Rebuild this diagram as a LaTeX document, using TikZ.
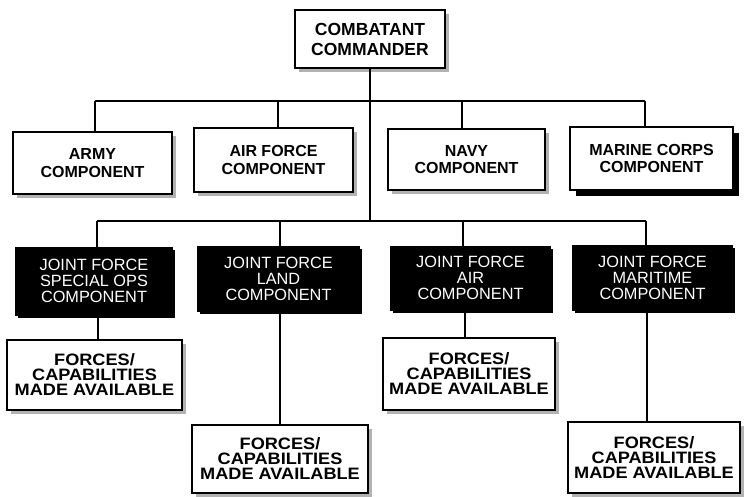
\documentclass[tikz,border=0pt]{standalone}
\usepackage{fontspec}
\setmainfont{Liberation Sans}
\newfontfamily\widefont[FakeStretch=1.1]{Liberation Sans}
\usetikzlibrary{shadows}
\newcommand{\txa}{\fontsize{17.5}{20}\selectfont}
\newcommand{\txb}{\fontsize{16}{17.5}\selectfont}
\newcommand{\txc}{\fontsize{16.3}{16}\selectfont}
\newcommand{\txd}{\widefont\fontsize{16.5}{15}\selectfont}
\tikzset{
  wbox/.style={draw=black, line width=1.6pt, fill=white, align=center, inner sep=0pt,
    drop shadow={fill=black!30, shadow xshift=4pt, shadow yshift=-4pt, opacity=1}},
  cmdbox/.style={wbox, font=\bfseries\txa},
  compbox/.style={wbox, font=\bfseries\txb},
  forcebox/.style={wbox, font=\txd\bfseries},
  mbox/.style={draw=black, line width=1.6pt, fill=white, align=center, inner sep=0pt,
    font=\bfseries\txb, drop shadow={fill=black, shadow xshift=6pt, shadow yshift=-6pt, opacity=1}},
  bbox/.style={draw=black, line width=1pt, fill=black, text=white, align=center, inner sep=0pt,
    font=\txc, drop shadow={fill=black, shadow xshift=2.5pt, shadow yshift=-2.5pt, opacity=1}},
  conn/.style={line width=1.6pt, draw=black},
}
\begin{document}
\begin{tikzpicture}[x=1pt,y=-1pt]
\useasboundingbox (0,0) rectangle (744,497);
\coordinate (ha) at (95,101);
\coordinate (hb) at (278,101);
\coordinate (hc) at (462,101);
\coordinate (hd) at (645,101);
\coordinate (tk) at (370,221);
\coordinate (ja) at (97,221);
\coordinate (jb) at (280,221);
\coordinate (jc) at (463,221);
\coordinate (jd) at (646,221);
\coordinate (ka) at (98,330);
\coordinate (kb) at (280,330);
\coordinate (kc) at (465,330);
\coordinate (kd) at (647,330);

% boxes
\node[cmdbox, minimum width=150pt, minimum height=58pt] (cmd) at (370,39) {COMBATANT\\ COMMANDER};

\node[compbox, minimum width=159pt, minimum height=62pt] (army) at (92.5,163) {ARMY\\ COMPONENT};
\node[compbox, minimum width=159pt, minimum height=64pt] (airf) at (273.5,160) {AIR FORCE\\ COMPONENT};
\node[compbox, minimum width=157pt, minimum height=61pt] (navy) at (466.5,159.5) {NAVY\\ COMPONENT};
\node[mbox, minimum width=163pt, minimum height=63pt] (marine) at (651.5,158.5) {MARINE CORPS\\ COMPONENT};

\node[bbox, minimum width=157pt, minimum height=68pt] (jso) at (94,281) {JOINT FORCE\\ SPECIAL OPS\\ COMPONENT};
\node[bbox, minimum width=162pt, minimum height=65pt] (jland) at (278.5,278.5) {JOINT FORCE\\ LAND\\ COMPONENT};
\node[bbox, minimum width=160pt, minimum height=64pt] (jair) at (470.5,278) {JOINT FORCE\\ AIR\\ COMPONENT};
\node[bbox, minimum width=160pt, minimum height=65pt] (jmar) at (652.5,277.5) {JOINT FORCE\\ MARITIME\\ COMPONENT};

\node[forcebox, minimum width=175pt, minimum height=70pt] (fa) at (94.5,375) {FORCES/\\ CAPABILITIES\\ MADE AVAILABLE};
\node[forcebox, minimum width=176pt, minimum height=68pt] (fb) at (280,459) {FORCES/\\ CAPABILITIES\\ MADE AVAILABLE};
\node[forcebox, minimum width=172pt, minimum height=72pt] (fc) at (469,374) {FORCES/\\ CAPABILITIES\\ MADE AVAILABLE};
\node[forcebox, minimum width=172pt, minimum height=71pt] (fd) at (654,457.5) {FORCES/\\ CAPABILITIES\\ MADE AVAILABLE};

% connectors
\draw[conn] (cmd.south) -- (tk);
\draw[conn] (ha) -- (hd);
\draw[conn] (ha) -- (ha |- army.north);
\draw[conn] (hb) -- (hb |- airf.north);
\draw[conn] (hc) -- (hc |- navy.north);
\draw[conn] (hd) -- (hd |- marine.north);
\draw[conn] (ja) -- (jd);
\draw[conn] (ja) -- (ja |- jso.north);
\draw[conn] (jb) -- (jb |- jland.north);
\draw[conn] (jc) -- (jc |- jair.north);
\draw[conn] (jd) -- (jd |- jmar.north);
\draw[conn] (ka |- jso.south) -- (ka |- fa.north);
\draw[conn] (kb |- jland.south) -- (kb |- fb.north);
\draw[conn] (kc |- jair.south) -- (kc |- fc.north);
\draw[conn] (kd |- jmar.south) -- (kd |- fd.north);
\end{tikzpicture}
\end{document}
